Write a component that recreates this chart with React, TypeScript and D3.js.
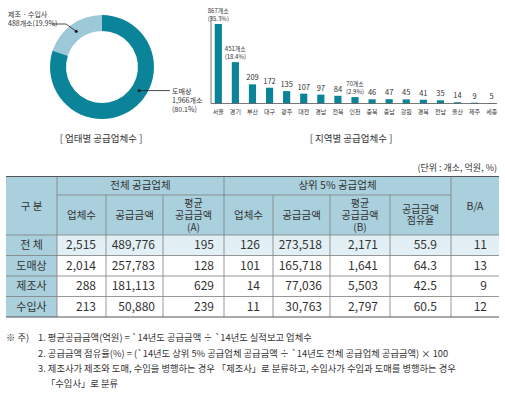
import React from 'react';
import * as d3 from 'd3';

// donut: business type
const bizTypes = ['도매상', '제조 · 수입사'];
const bizCounts = [1966, 488];
const bizShares = [80.1, 19.9];

// bars: region
const regions = ['서울', '경기', '부산', '대구', '광주', '대전', '경남', '전북', '인천', '충북', '충남', '강원', '경북', '전남', '울산', '제주', '세종'];
const regionCounts = [867, 451, 209, 172, 135, 107, 97, 84, 70, 46, 47, 45, 41, 35, 14, 9, 5];
const regionShares = [35.3, 18.4, null, null, null, null, null, null, 2.9, null, null, null, null, null, null, null, null];

// table
const rowLabels = ['전 체', '도매상', '제조사', '수입사'];
const totalCount = [2515, 2014, 288, 213];
const totalAmount = [489776, 257783, 181113, 50880];
const avgA = [195, 128, 629, 239];
const topCount = [126, 101, 14, 11];
const topAmount = [273518, 165718, 77036, 30763];
const avgB = [2171, 1641, 5503, 2797];
const topShare = [55.9, 64.3, 42.5, 60.5];
const ratioBA = [11, 13, 9, 12];

const groupHeaders = ['전체 공급업체', '상위 5% 공급업체'];
const subHeaders = [['업체수'], ['공급금액'], ['평균', '공급금액', '(A)'], ['업체수'], ['공급금액'], ['평균', '공급금액', '(B)'], ['공급금액', '점유율']];

const footnotes = [
  '1. 평균공급금액(억원) = `14년도 공급금액 ÷ `14년도 실적보고 업체수',
  '2. 공급금액 점유율(%) = (`14년도 상위 5% 공급업체 공급금액 ÷ `14년도 전체 공급업체 공급금액) × 100',
  '3. 제조사가 제조와 도매, 수입을 병행하는 경우 「제조사」로 분류하고, 수입사가 수입과 도매를 병행하는 경우',
  '「수입사」로 분류',
];

const FONT = '"Noto Sans CJK KR", "Noto Sans", sans-serif';
const DARK = '#0b8499';
const LIGHT = '#9cc8d8';
const HEAD = '#aad0dd';
const ROW_HL = '#e2eff4';
const LINE = '#7d7d7d';
const TXT = '#333';

const comma = d3.format(',');
const one = d3.format('.1f');

function Donut() {
  const cx = 102, cy = 67, r0 = 36, r1 = 52;
  const pie = d3.pie<number>().sort(null).value(d => d);
  const arcs = pie(bizCounts);
  const arc = d3.arc<d3.PieArcDatum<number>>().innerRadius(r0).outerRadius(r1);
  const mid = (r0 + r1) / 2;
  const lightC = arc.centroid(arcs[1]);
  const ang = Math.PI * 2 * 0.34;
  const darkC = [Math.sin(ang) * mid, -Math.cos(ang) * mid];
  return (
    <g>
      <g transform={`translate(${cx},${cy})`}>
        {arcs.map((a, i) => (
          <path key={i} d={arc(a) || ''} fill={i === 0 ? DARK : LIGHT} />
        ))}
        <circle cx={lightC[0]} cy={lightC[1]} r={1.6} fill="#222" />
        <circle cx={darkC[0]} cy={darkC[1]} r={1.6} fill="#222" />
        <polyline points={`${-50},${-43} ${-36},${-43} ${lightC[0]},${lightC[1]}`} fill="none" stroke="#222" strokeWidth={0.8} />
        <line x1={darkC[0]} y1={darkC[1]} x2={68} y2={darkC[1]} stroke="#222" strokeWidth={0.8} />
      </g>
      <text x={8} y={17} fontSize={7} fill={TXT}>{bizTypes[1]}</text>
      <text x={8} y={26} fontSize={7} fill={TXT}>{`${bizCounts[1]}개소(${one(bizShares[1])}%)`}</text>
      <text x={172} y={94} fontSize={7} fill={TXT}>{bizTypes[0]}</text>
      <text x={172} y={103} fontSize={7} fill={TXT}>{`${comma(bizCounts[0])}개소`}</text>
      <text x={172} y={112} fontSize={7} fill={TXT}>{`(${one(bizShares[0])}%)`}</text>
      <text x={101} y={142} fontSize={9.5} fill={TXT} textAnchor="middle">[ 업태별 공급업체수 ]</text>
    </g>
  );
}

function Bars() {
  const x = d3.scaleBand().domain(regions).range([213, 497]).paddingInner(0.58).paddingOuter(0.1);
  const y = d3.scaleLinear().domain([0, 867]).range([103.5, 24]);
  return (
    <g>
      {regions.map((r, i) => {
        const v = regionCounts[i];
        const bx = x(r)!;
        const cxm = bx + x.bandwidth() / 2;
        const s = regionShares[i];
        return (
          <g key={r}>
            <rect x={bx} y={y(v)} width={x.bandwidth()} height={y(0) - y(v)} fill={DARK} />
            {s != null ? (
              <>
                <text x={cxm} y={y(v) - 11} fontSize={6} textAnchor="middle" fill={TXT}>{`${v}개소`}</text>
                <text x={cxm} y={y(v) - 3} fontSize={6} textAnchor="middle" fill={TXT}>{`(${one(s)}%)`}</text>
              </>
            ) : (
              <text x={cxm} y={y(v) - 4} fontSize={7.5} textAnchor="middle" fill={TXT}>{v}</text>
            )}
            <text x={cxm} y={114} fontSize={6} textAnchor="middle" fill={TXT}>{r}</text>
          </g>
        );
      })}
      <line x1={211} y1={16} x2={211} y2={y(0)} stroke="#555" strokeWidth={0.8} />
      <line x1={211} y1={y(0)} x2={497} y2={y(0)} stroke="#555" strokeWidth={0.8} />
      <text x={351} y={142} fontSize={9.5} fill={TXT} textAnchor="middle">[ 지역별 공급업체수 ]</text>
    </g>
  );
}

function Table() {
  const colX = [6, 57, 106, 163, 224, 273, 330, 390, 451, 499];
  const yTop = 176.5, yMid = 195, yHead = 235, rowH = 20.5;
  const yBottom = yHead + rowH * rowLabels.length;
  const cols = [
    totalCount.map(comma), totalAmount.map(comma), avgA.map(comma),
    topCount.map(comma), topAmount.map(comma), avgB.map(comma),
    topShare.map(one), ratioBA.map(String),
  ];
  const pads = [10, 8, 10, 13, 8, 12, 14, 12];
  return (
    <g>
      <text x={497} y={171} fontSize={9} textAnchor="end" fill={TXT}>(단위 : 개소, 억원, %)</text>
      <rect x={colX[0]} y={yTop} width={colX[9] - colX[0]} height={yHead - yTop} fill={HEAD} />
      <rect x={colX[0]} y={yHead} width={colX[1] - colX[0]} height={yBottom - yHead} fill={HEAD} />
      <rect x={colX[1]} y={yHead} width={colX[9] - colX[1]} height={rowH} fill={ROW_HL} />
      {/* grid */}
      <line x1={colX[1]} x2={colX[8]} y1={yMid} y2={yMid} stroke={LINE} strokeWidth={0.8} />
      {[1, 8].map(c => (
        <line key={c} x1={colX[c]} x2={colX[c]} y1={yTop} y2={yBottom} stroke={LINE} strokeWidth={0.8} />
      ))}
      <line x1={colX[4]} x2={colX[4]} y1={yTop} y2={yBottom} stroke={LINE} strokeWidth={0.8} />
      {[2, 3, 5, 6, 7].map(c => (
        <line key={c} x1={colX[c]} x2={colX[c]} y1={yMid} y2={yBottom} stroke={LINE} strokeWidth={0.8} />
      ))}
      {rowLabels.map((_, i) => (
        <line key={i} x1={colX[0]} x2={colX[9]} y1={yHead + rowH * i} y2={yHead + rowH * i} stroke={LINE} strokeWidth={0.8} />
      ))}
      <line x1={colX[0]} x2={colX[9]} y1={yTop} y2={yTop} stroke="#555" strokeWidth={1} />
      <line x1={colX[0]} x2={colX[9]} y1={yBottom} y2={yBottom} stroke="#555" strokeWidth={1} />
      {/* header text */}
      <text x={(colX[0] + colX[1]) / 2} y={(yTop + yHead) / 2 + 4} fontSize={10.5} textAnchor="middle" fill={TXT}>구 분</text>
      <text x={(colX[8] + colX[9]) / 2} y={(yTop + yHead) / 2 + 4} fontSize={10.5} textAnchor="middle" fill={TXT}>B/A</text>
      <text x={(colX[1] + colX[4]) / 2} y={(yTop + yMid) / 2 + 3.5} fontSize={10.5} textAnchor="middle" fill={TXT}>{groupHeaders[0]}</text>
      <text x={(colX[4] + colX[8]) / 2} y={(yTop + yMid) / 2 + 3.5} fontSize={10.5} textAnchor="middle" fill={TXT}>{groupHeaders[1]}</text>
      {subHeaders.map((lines, j) => {
        const cxm = (colX[j + 1] + colX[j + 2]) / 2;
        const ym = (yMid + yHead) / 2;
        const lh = lines.length > 2 ? 12 : 11;
        const y0 = ym - ((lines.length - 1) / 2) * lh + 3.5;
        return (
          <text key={j} x={cxm} y={y0} fontSize={lines.length > 1 ? 10 : 10.5} textAnchor="middle" fill={TXT}>
            {lines.map((t, k) => (
              <tspan key={k} x={cxm} dy={k === 0 ? 0 : lh}>{t}</tspan>
            ))}
          </text>
        );
      })}
      {/* body */}
      {rowLabels.map((lab, i) => {
        const ym = yHead + rowH * i + rowH / 2 + 4;
        return (
          <g key={lab}>
            <text x={(colX[0] + colX[1]) / 2} y={ym} fontSize={11} textAnchor="middle" fill={TXT}>{lab}</text>
            {cols.map((c, j) => (
              <text key={j} x={colX[j + 2] - pads[j]} y={ym} fontSize={12} textAnchor="end" fill={TXT}>{c[i]}</text>
            ))}
          </g>
        );
      })}
    </g>
  );
}

function Notes() {
  const ys = [341, 356.5, 372, 387];
  return (
    <g fontSize={9.3} fill={TXT}>
      <text x={6} y={ys[0]}>※ 주)</text>
      {footnotes.map((t, i) => (
        <text key={i} x={i === 3 ? 46 : 38} y={ys[i]}>{t}</text>
      ))}
    </g>
  );
}

export default function App() {
  return (
    <svg width={505} height={393} style={{ position: 'absolute', left: 0, top: 0, background: '#fff' }} fontFamily={FONT}>
      <Donut />
      <Bars />
      <Table />
      <Notes />
    </svg>
  );
}
